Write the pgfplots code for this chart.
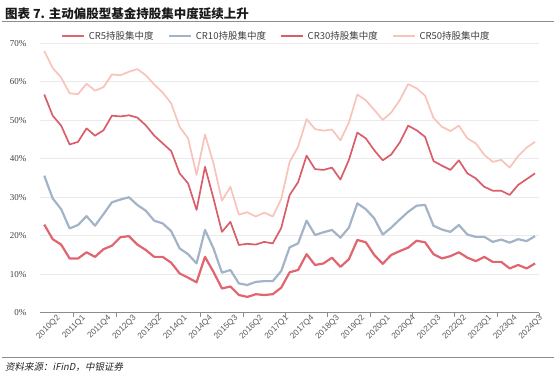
\documentclass[border=0pt]{standalone}
\usepackage{pgfplots}
\pgfplotsset{compat=1.18}
\usepackage{pgfplotstable}
\usepackage{fontspec}
\setmainfont{Liberation Serif}
\setsansfont{Liberation Sans}
\newfontfamily\cjk{Noto Sans CJK SC}
\newfontfamily\cjkit[FakeSlant=0.2]{Noto Sans CJK SC}
\definecolor{cfive}{HTML}{E0656F}
\definecolor{cten}{HTML}{A3B3C8}
\definecolor{cthirty}{HTML}{D95E6A}
\definecolor{cfifty}{HTML}{F8C3BA}
\definecolor{rule}{HTML}{8C8C8C}
\pgfplotstableread{
i cr5 cr10 cr30 cr50
0 22.9 35.6 56.7 68.0
1 19.1 29.7 51.2 63.6
2 17.7 26.9 48.6 61.1
3 14.1 21.9 43.7 57.0
4 14.1 22.8 44.4 56.8
5 15.7 25.1 47.9 59.5
6 14.5 22.6 46.0 57.7
7 16.5 25.6 47.4 58.6
8 17.4 28.7 51.2 61.9
9 19.6 29.4 51.0 61.7
10 19.9 30.0 51.3 62.6
11 17.7 28.0 50.7 63.3
12 16.3 26.5 48.7 61.7
13 14.5 23.9 46.0 59.3
14 14.5 23.2 44.0 57.2
15 13.0 21.2 42.0 54.4
16 10.2 16.7 36.2 48.3
17 9.1 15.2 33.6 45.3
18 7.9 12.8 26.7 35.8
19 14.5 21.5 37.9 46.3
20 10.6 16.7 29.7 38.8
21 6.3 10.4 21.0 29.1
22 6.8 11.1 23.6 32.7
23 4.6 7.6 17.6 25.5
24 4.1 7.2 17.9 26.1
25 4.8 8.0 17.7 25.0
26 4.6 8.2 18.4 26.0
27 4.8 8.2 18.0 25.0
28 6.5 10.8 22.0 29.5
29 10.5 17.0 30.6 39.2
30 11.1 18.0 33.9 43.1
31 15.2 23.9 40.8 50.3
32 12.4 20.2 37.3 47.7
33 12.8 20.9 37.1 47.3
34 14.3 21.5 37.7 47.6
35 11.9 19.5 34.6 44.8
36 13.9 22.1 39.7 49.4
37 18.9 28.4 46.8 56.7
38 18.3 26.9 45.3 55.2
39 15.0 24.5 42.2 52.7
40 12.7 20.3 39.6 50.1
41 15.0 22.1 41.1 52.0
42 16.0 24.2 44.2 55.2
43 16.9 26.2 48.6 59.4
44 18.7 27.8 47.4 58.3
45 18.3 28.0 45.7 56.4
46 15.2 22.6 39.4 50.6
47 14.1 21.6 38.2 48.3
48 14.7 21.0 37.1 47.2
49 15.7 22.8 39.6 48.6
50 14.3 20.3 36.2 45.3
51 13.4 19.7 34.9 44.0
52 14.5 19.7 32.7 41.0
53 13.2 18.4 31.7 39.2
54 13.2 19.0 31.7 39.7
55 11.5 18.2 30.6 37.7
56 12.4 19.1 33.2 40.7
57 11.5 18.6 34.7 42.9
58 12.8 19.9 36.2 44.4
}\datatable
\begin{document}
\begin{tikzpicture}
\useasboundingbox (0pt,0pt) rectangle (554pt,378pt);
\node[anchor=west, inner sep=0pt, font=\cjk\bfseries\fontsize{12.5}{13}\selectfont, text=black!90] at (5pt,364.7pt) {图表 7. 主动偏股型基金持股集中度延续上升};
\draw[rule, line width=1.2pt] (2pt,356.3pt) -- (554pt,356.3pt);
\draw[rule, line width=1pt] (2pt,20.3pt) -- (554pt,20.3pt);
\node[anchor=west, inner sep=0pt, font=\cjkit\fontsize{9.5}{10}\selectfont, text=black!85] at (5pt,11pt) {资料来源：iFinD，中银证券};
\begin{axis}[
  at={(40pt,65.3pt)}, anchor=south west,
  scale only axis, width=499.3pt, height=269.4pt,
  xmin=-0.5, xmax=58.5, ymin=0, ymax=70,
  axis x line*=bottom, axis y line*=left,
  y axis line style={draw=none},
  x axis line style={draw=rule, line width=0.8pt},
  ytick={0,10,...,70},
  ytick style={draw=none},
  yticklabel={\pgfmathprintnumber{\tick}\%},
  /pgf/number format/assume math mode=true,
  yticklabel style={font=\fontsize{9}{10}\selectfont, text=black!75, xshift=-10pt},
  ymajorgrids, grid style={draw=black!8, line width=0.7pt},
  xtick={1,4,...,58},
  xticklabels={2010Q2,2011Q1,2011Q4,2012Q3,2013Q2,2014Q1,2014Q4,2015Q3,2016Q2,2017Q1,2017Q4,2018Q3,2019Q2,2020Q1,2020Q4,2021Q3,2022Q2,2023Q1,2023Q4,2024Q3},
  xticklabel style={rotate=45, anchor=north east, inner sep=0pt, xshift=1.5pt, yshift=-3.5pt, font=\sffamily\fontsize{8.3}{9}\selectfont, text=black!65},
  major tick length=0pt,
  extra x ticks={3.5,8.5,...,58.5},
  extra x tick labels={},
  extra x tick style={major tick length=4pt, tick align=outside, tick style={draw=rule, line width=0.8pt}},
  clip=false,
  legend columns=4,
  legend style={at={(0.473,1.027)}, anchor=center, draw=none, fill=none,
    font=\cjk\fontsize{9.5}{10}\selectfont, text=black!75,
    /tikz/every odd column/.append style={column sep=2pt},
    /tikz/every even column/.append style={column sep=12pt}},
  legend image code/.code={\draw[#1] (0pt,0pt) -- (22pt,0pt);},
]
\addplot[cfive, line width=2.2pt, line join=round] table[x=i, y=cr5] {\datatable};
\addlegendentry{CR5持股集中度}
\addplot[cten, line width=2.2pt, line join=round] table[x=i, y=cr10] {\datatable};
\addlegendentry{CR10持股集中度}
\addplot[cthirty, line width=1.7pt, line join=round] table[x=i, y=cr30] {\datatable};
\addlegendentry{CR30持股集中度}
\addplot[cfifty, line width=1.7pt, line join=round] table[x=i, y=cr50] {\datatable};
\addlegendentry{CR50持股集中度}
\end{axis}
\end{tikzpicture}
\end{document}
